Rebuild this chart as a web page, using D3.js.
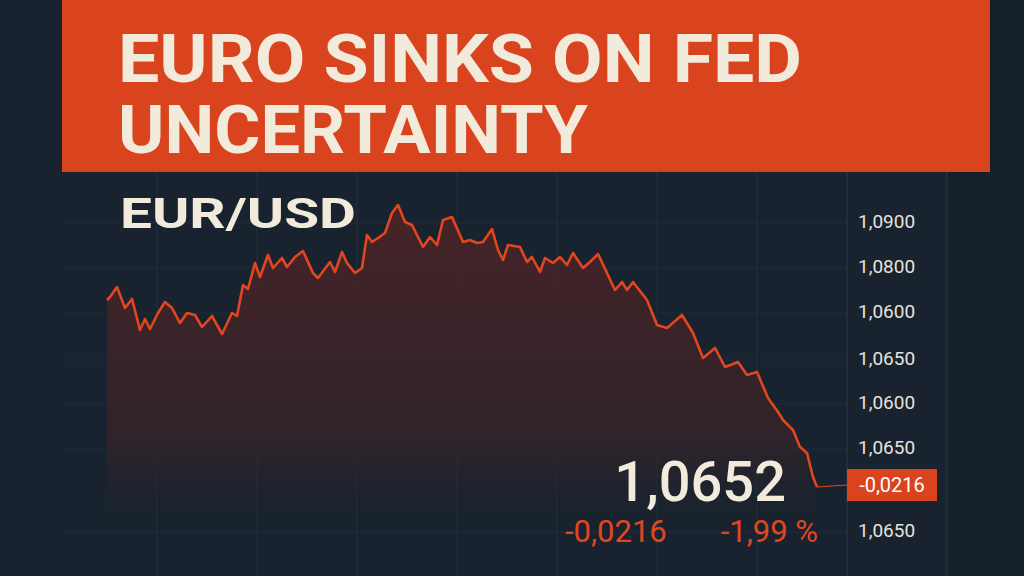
<!DOCTYPE html>
<html><head><meta charset="utf-8">
<script src="https://cdn.jsdelivr.net/npm/d3@7"></script>
<style>body{margin:0;background:#18232f}svg{display:block}</style>
</head><body>
<svg id="c" width="1024" height="576"></svg>
<script>
const titleLines = ["EURO SINKS ON FED", "UNCERTAINTY"];
const pairLabel = "EUR/USD";
const times = [0,3,10,18,25,33,38,43,51,58,65,73,80,88,95,105,115,125,130,136,141,148,153,161,166,175,180,188,196,206,211,223,228,235,240,248,255,260,265,271,278,285,291,298,305,316,323,330,336,345,356,363,370,376,385,391,396,401,413,420,425,433,438,446,453,460,466,476,483,491,500,508,515,520,526,540,550,560,575,586,596,608,618,631,640,650,661,671,676,686,693,700,706,710];
const prices = [1.0821,1.0824,1.0834,1.0813,1.0822,1.0791,1.0802,1.0792,1.0808,1.0819,1.0813,1.0798,1.0808,1.0806,1.0794,1.0805,1.0787,1.0808,1.0805,1.0836,1.0832,1.0858,1.0844,1.0866,1.0853,1.0863,1.0854,1.0864,1.0870,1.0848,1.0843,1.0859,1.0849,1.0869,1.0858,1.0848,1.0853,1.0886,1.0879,1.0883,1.0888,1.0908,1.0916,1.0899,1.0896,1.0874,1.0884,1.0876,1.0901,1.0904,1.0879,1.0881,1.0878,1.0879,1.0892,1.0871,1.0861,1.0876,1.0874,1.0859,1.0864,1.0849,1.0863,1.0858,1.0864,1.0856,1.0868,1.0853,1.0859,1.0867,1.0848,1.0831,1.0839,1.0831,1.0839,1.0821,1.0796,1.0793,1.0806,1.0788,1.0763,1.0773,1.0754,1.0759,1.0746,1.0749,1.0723,1.0709,1.0701,1.0691,1.0674,1.0668,1.0644,1.0634];
const tickValues = [1.0900,1.0855,1.0810,1.0763,1.0719,1.0674,1.0591];
const tickLabels = ["1,0900","1,0800","1,0600","1,0650","1,0600","1,0650","1,0650"];
const lastPrice = "1,0652";
const changeText = "-0,0216";
const changePct = "-1,99 %";
const boxValue = 1.0636;

const svg = d3.select("#c");
const W=1024,H=576;
const orange="#d9431e", cream="#f2ebdc", red="#e3461f";
// background
svg.append("rect").attr("width",W).attr("height",H).attr("fill","#18232f");
svg.append("rect").attr("x",947).attr("y",0).attr("width",77).attr("height",H).attr("fill","#15202a");
const defs=svg.append("defs");
const g=defs.append("linearGradient").attr("id","ar").attr("x1",0).attr("x2",0).attr("y1",0).attr("y2",1);
g.append("stop").attr("offset","0%").attr("stop-color","#4a2327").attr("stop-opacity",0.95);
g.append("stop").attr("offset","70%").attr("stop-color","#3a2328").attr("stop-opacity",0.7);
g.append("stop").attr("offset","100%").attr("stop-color","#18232f").attr("stop-opacity",0);

const x=d3.scaleLinear().domain([0,710]).range([107,817]);
const y=d3.scaleLinear().domain([1.0900,1.0591]).range([221,530]);

// faint grid
const grid=svg.append("g");
d3.range(160,847,100).forEach(()=>{});
[157,257,357,457,557,657,757].forEach(gx=>grid.append("line").attr("x1",gx).attr("x2",gx).attr("y1",172).attr("y2",H).attr("stroke","#22303c").attr("stroke-width",1));
tickValues.forEach(v=>grid.append("line").attr("x1",62).attr("x2",847).attr("y1",y(v)+2).attr("y2",y(v)+2).attr("stroke","#1f2c38"));
svg.append("line").attr("x1",847).attr("x2",847).attr("y1",172).attr("y2",H).attr("stroke","#2a3845");
svg.append("line").attr("x1",947).attr("x2",947).attr("y1",0).attr("y2",H).attr("stroke","#2a3845");

// banner
svg.append("rect").attr("x",62).attr("y",0).attr("width",928).attr("height",172).attr("fill",orange);
svg.append("text").attr("x",118).attr("y",82).text(titleLines[0]).attr("fill",cream)
  .attr("font-family","Roboto, sans-serif").attr("font-weight",700).attr("font-size",66).attr("textLength",684).attr("lengthAdjust","spacingAndGlyphs");
svg.append("text").attr("x",118).attr("y",153).text(titleLines[1]).attr("fill",cream)
  .attr("font-family","Roboto, sans-serif").attr("font-weight",700).attr("font-size",66).attr("textLength",470).attr("lengthAdjust","spacingAndGlyphs");

svg.append("text").attr("x",120).attr("y",228).text(pairLabel).attr("fill",cream)
  .attr("font-family","Roboto, sans-serif").attr("font-weight",700).attr("font-size",42).attr("textLength",236).attr("lengthAdjust","spacingAndGlyphs");

const data=times.map((t,i)=>({t,p:prices[i]}));
svg.append("path").datum(data).attr("fill","url(#ar)")
  .attr("d",d3.area().x(d=>x(d.t)).y0(540).y1(d=>y(d.p)));
svg.append("path").datum(data).attr("fill","none").attr("stroke",red).attr("stroke-width",2.6).attr("stroke-linejoin","round")
  .attr("d",d3.line().x(d=>x(d.t)).y(d=>y(d.p)));

// axis
const ax=d3.axisRight(y).tickValues(tickValues).tickSize(0).tickPadding(0).tickFormat((d,i)=>tickLabels[i]);
const axg=svg.append("g").attr("transform","translate(858,0)").call(ax);
axg.select(".domain").remove();
axg.selectAll("text").attr("fill","#e6e2da").attr("font-family","Roboto, sans-serif").attr("font-size",19).attr("dy","0.35em");

// price box
svg.append("line").attr("x1",x(710)).attr("x2",847).attr("y1",y(prices[prices.length-1])).attr("y2",y(boxValue)).attr("stroke",red).attr("stroke-width",1.2);
svg.append("rect").attr("x",847).attr("y",y(boxValue)-16).attr("width",90).attr("height",32).attr("fill",orange);
svg.append("text").attr("x",892).attr("y",y(boxValue)).attr("dy","0.36em").attr("text-anchor","middle").text(changeText)
  .attr("fill","#fff").attr("font-family","Roboto, sans-serif").attr("font-size",20);

svg.append("text").attr("x",786).attr("y",501).attr("text-anchor","end").text(lastPrice).attr("fill",cream)
  .attr("font-family","Roboto, sans-serif").attr("font-weight",500).attr("font-size",56);
svg.append("text").attr("x",565).attr("y",542).text(changeText).attr("fill",red)
  .attr("font-family","Roboto, sans-serif").attr("font-size",31);
svg.append("text").attr("x",818).attr("y",542).attr("text-anchor","end").text(changePct).attr("fill",red)
  .attr("font-family","Roboto, sans-serif").attr("font-size",31);
</script>
</body></html>
